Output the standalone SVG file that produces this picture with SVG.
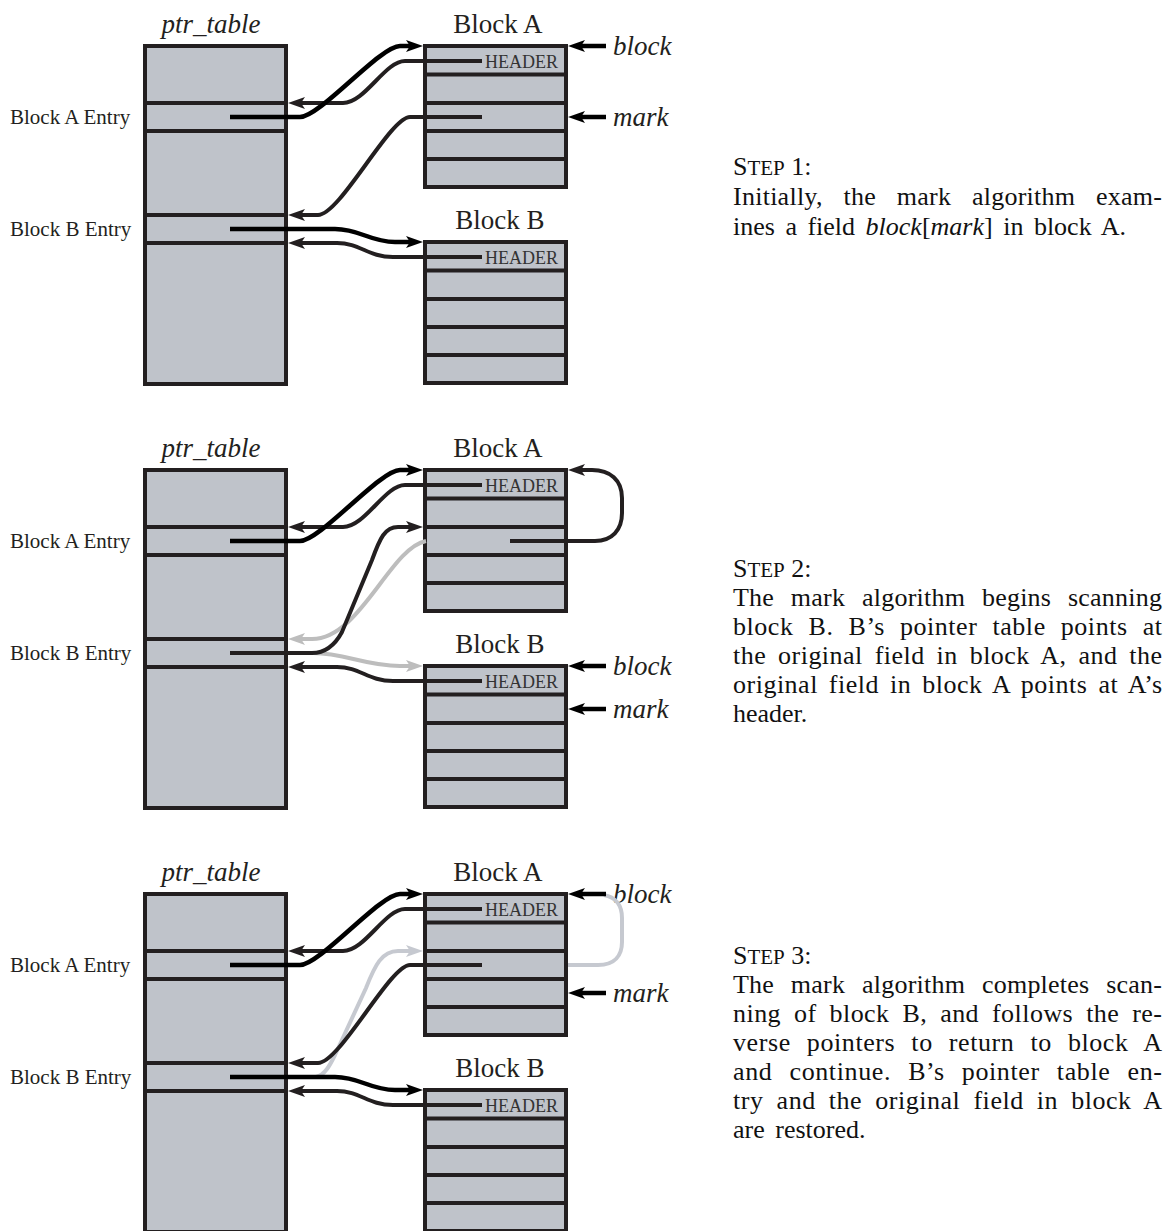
<svg xmlns="http://www.w3.org/2000/svg" width="1165" height="1231" viewBox="0 0 1165 1231">
<style>
.box{fill:#bfc3ca;stroke:#231f20;stroke-width:4}
.row{fill:none;stroke:#231f20;stroke-width:4}
.title{font-family:"Liberation Serif",serif;font-size:27px;fill:#231f20}
.it{font-style:italic}
.hdr{font-family:"Liberation Serif",serif;font-size:18px;fill:#333}
.lbl{font-family:"Liberation Serif",serif;font-size:21px;fill:#231f20}
.body{font-family:"Liberation Serif",serif;font-size:26px;fill:#111}
.sc{font-size:21px}
.blk{fill:none;stroke:#000;stroke-width:4.5;marker-end:url(#ab)}
.drk{fill:none;stroke:#231f20;stroke-width:4;marker-end:url(#ad)}
.gr{fill:none;stroke:#bdbdbd;stroke-width:4;marker-end:url(#ag)}
.gb{fill:none;stroke:#c6c9d0;stroke-width:4;marker-end:url(#agb)}
.gbn{fill:none;stroke:#c6c9d0;stroke-width:4}
</style>
<defs>
<marker id="ab" markerUnits="userSpaceOnUse" markerWidth="17" markerHeight="12" refX="4" refY="6" orient="auto" overflow="visible"><path d="M0,0 L17,6 L0,12 L4,6 z" fill="#000"/></marker>
<marker id="ad" markerUnits="userSpaceOnUse" markerWidth="17" markerHeight="12" refX="4" refY="6" orient="auto" overflow="visible"><path d="M0,0 L17,6 L0,12 L4,6 z" fill="#231f20"/></marker>
<marker id="ag" markerUnits="userSpaceOnUse" markerWidth="17" markerHeight="12" refX="4" refY="6" orient="auto" overflow="visible"><path d="M0,0 L17,6 L0,12 L4,6 z" fill="#bdbdbd"/></marker>
<marker id="agb" markerUnits="userSpaceOnUse" markerWidth="17" markerHeight="12" refX="4" refY="6" orient="auto" overflow="visible"><path d="M0,0 L17,6 L0,12 L4,6 z" fill="#c6c9d0"/></marker>
</defs>

<!-- ================= PANEL 1 ================= -->
<g id="panel1">
  <g id="p1-ptr_table">
    <rect class="box" x="145" y="46" width="141" height="338"/>
    <path class="row" d="M145,103H286M145,131H286M145,215H286M145,243H286"/>
    <text class="title it" x="211" y="33" text-anchor="middle">ptr_table</text>
  </g>
  <g id="p1-entry-labels">
    <text class="lbl" x="10" y="124">Block A Entry</text>
    <text class="lbl" x="10" y="236">Block B Entry</text>
  </g>
  <g id="p1-blockA">
    <rect class="box" x="425" y="46" width="141" height="141"/>
    <path class="row" d="M425,74.5H566M425,103H566M425,131H566M425,159H566"/>
    <text class="title" x="498" y="33" text-anchor="middle">Block A</text>
    <text class="hdr" x="485" y="68">HEADER</text>
  </g>
  <g id="p1-blockB">
    <rect class="box" x="425" y="242" width="141" height="141"/>
    <path class="row" d="M425,270.5H566M425,299H566M425,327H566M425,355H566"/>
    <text class="title" x="500" y="229" text-anchor="middle">Block B</text>
    <text class="hdr" x="485" y="264">HEADER</text>
  </g>
  <g id="p1-pointer-labels">
    <text class="title it" x="613" y="55">block</text>
    <text class="title it" x="613" y="126">mark</text>
  </g>
  <g id="p1-text">
    <text class="body" x="733" y="175">S<tspan class="sc">TEP</tspan> 1:</text>
    <text class="body" x="733" y="205" textLength="429" lengthAdjust="spacing" word-spacing="14">Initially, the mark algorithm exam-</text>
    <text class="body" x="733" y="235" word-spacing="4">ines a field <tspan class="it">block</tspan>[<tspan class="it">mark</tspan>] in block A.</text>
  </g>
  <g id="p1-connectors">
    <path class="drk" d="M482,61H405C385,61 365,103 343,103H301"/>
    <path class="drk" d="M482,117H410C390,117 340,215 318,215H301"/>
    <path class="drk" d="M482,257H393C368,257 360,243 337,243H301"/>
    <path class="blk" d="M230,117H300C320,117 380,46 400,46H410"/>
    <path class="blk" d="M230,229H335C360,229 370,242 395,242H410"/>
    <path class="blk" d="M606,46H581"/>
    <path class="blk" d="M606,117H581"/>
  </g>
</g>

<!-- ================= PANEL 2 ================= -->
<g id="panel2" transform="translate(0,424)">
  <g id="p2-ptr_table">
    <rect class="box" x="145" y="46" width="141" height="338"/>
    <path class="row" d="M145,103H286M145,131H286M145,215H286M145,243H286"/>
    <text class="title it" x="211" y="33" text-anchor="middle">ptr_table</text>
  </g>
  <g id="p2-entry-labels">
    <text class="lbl" x="10" y="124">Block A Entry</text>
    <text class="lbl" x="10" y="236">Block B Entry</text>
  </g>
  <g id="p2-blockA">
    <rect class="box" x="425" y="46" width="141" height="141"/>
    <path class="row" d="M425,74.5H566M425,103H566M425,131H566M425,159H566"/>
    <text class="title" x="498" y="33" text-anchor="middle">Block A</text>
    <text class="hdr" x="485" y="68">HEADER</text>
  </g>
  <g id="p2-blockB">
    <rect class="box" x="425" y="242" width="141" height="141"/>
    <path class="row" d="M425,270.5H566M425,299H566M425,327H566M425,355H566"/>
    <text class="title" x="500" y="229" text-anchor="middle">Block B</text>
    <text class="hdr" x="485" y="264">HEADER</text>
  </g>
  <g id="p2-pointer-labels">
    <text class="title it" x="613" y="251">block</text>
    <text class="title it" x="613" y="294">mark</text>
  </g>
  <g id="p2-text">
    <text class="body" x="733" y="153">S<tspan class="sc">TEP</tspan> 2:</text>
    <text class="body" x="733" y="182" textLength="429" lengthAdjust="spacing" word-spacing="10">The mark algorithm begins scanning</text>
    <text class="body" x="733" y="211" textLength="429" lengthAdjust="spacing" word-spacing="8">block B. B’s pointer table points at</text>
    <text class="body" x="733" y="240" textLength="429" lengthAdjust="spacing" word-spacing="5">the original field in block A, and the</text>
    <text class="body" x="733" y="269" textLength="429" lengthAdjust="spacing" word-spacing="4">original field in block A points at A’s</text>
    <text class="body" x="733" y="298">header.</text>
  </g>
  <g id="p2-connectors">
    <path class="gr" d="M426,117C390,124 360,215 312,215H301"/>
    <path class="gr" d="M313,229C345,229 365,242 400,242H410"/>
    <path class="drk" d="M482,61H405C385,61 365,103 343,103H301"/>
    <path class="drk" d="M510,117H595C612,117 622,106 622,89V74C622,56 610,46 592,46H581"/>
    <path class="drk" d="M230,229H312C325,229 335,221 342,208L372,136C380,114 385,103 398,103H410"/>
    <path class="drk" d="M482,257H393C368,257 360,243 337,243H301"/>
    <path class="blk" d="M230,117H300C320,117 380,46 400,46H410"/>
    <path class="blk" d="M606,242H581"/>
    <path class="blk" d="M606,285H581"/>
  </g>
</g>

<!-- ================= PANEL 3 ================= -->
<g id="panel3" transform="translate(0,848)">
  <g id="p3-ptr_table">
    <rect class="box" x="145" y="46" width="141" height="338"/>
    <path class="row" d="M145,103H286M145,131H286M145,215H286M145,243H286"/>
    <text class="title it" x="211" y="33" text-anchor="middle">ptr_table</text>
  </g>
  <g id="p3-entry-labels">
    <text class="lbl" x="10" y="124">Block A Entry</text>
    <text class="lbl" x="10" y="236">Block B Entry</text>
  </g>
  <g id="p3-blockA">
    <rect class="box" x="425" y="46" width="141" height="141"/>
    <path class="row" d="M425,74.5H566M425,103H566M425,131H566M425,159H566"/>
    <text class="title" x="498" y="33" text-anchor="middle">Block A</text>
    <text class="hdr" x="485" y="68">HEADER</text>
  </g>
  <g id="p3-blockB">
    <rect class="box" x="425" y="242" width="141" height="141"/>
    <path class="row" d="M425,270.5H566M425,299H566M425,327H566M425,355H566"/>
    <text class="title" x="500" y="229" text-anchor="middle">Block B</text>
    <text class="hdr" x="485" y="264">HEADER</text>
  </g>
  <g id="p3-pointer-labels">
    <text class="title it" x="613" y="55">block</text>
    <text class="title it" x="613" y="154">mark</text>
  </g>
  <g id="p3-text">
    <text class="body" x="733" y="116">S<tspan class="sc">TEP</tspan> 3:</text>
    <text class="body" x="733" y="145" textLength="429" lengthAdjust="spacing" word-spacing="10">The mark algorithm completes scan-</text>
    <text class="body" x="733" y="174" textLength="429" lengthAdjust="spacing" word-spacing="6">ning of block B, and follows the re-</text>
    <text class="body" x="733" y="203" textLength="429" lengthAdjust="spacing" word-spacing="9">verse pointers to return to block A</text>
    <text class="body" x="733" y="232" textLength="429" lengthAdjust="spacing" word-spacing="10">and continue.  B’s pointer table en-</text>
    <text class="body" x="733" y="261" textLength="429" lengthAdjust="spacing" word-spacing="6">try and the original field in block A</text>
    <text class="body" x="733" y="290" word-spacing="4">are restored.</text>
  </g>
  <g id="p3-connectors">
    <path class="gb" d="M316,229C325,227 330,217 335,207L366,140C375,117 382,103 398,103H410"/>
    <path class="gbn" d="M568,117H598C615,117 622,107 622,94V70C622,57 615,49 604,47"/>
    <path class="drk" d="M482,61H405C385,61 365,103 343,103H301"/>
    <path class="drk" d="M482,117H410C390,117 340,215 318,215H301"/>
    <path class="drk" d="M482,257H393C368,257 360,243 337,243H301"/>
    <path class="blk" d="M230,117H300C320,117 380,46 400,46H410"/>
    <path class="blk" d="M230,229H335C360,229 370,242 395,242H410"/>
    <path class="blk" d="M606,46H581"/>
    <path class="blk" d="M606,145H581"/>
  </g>
</g>
</svg>
